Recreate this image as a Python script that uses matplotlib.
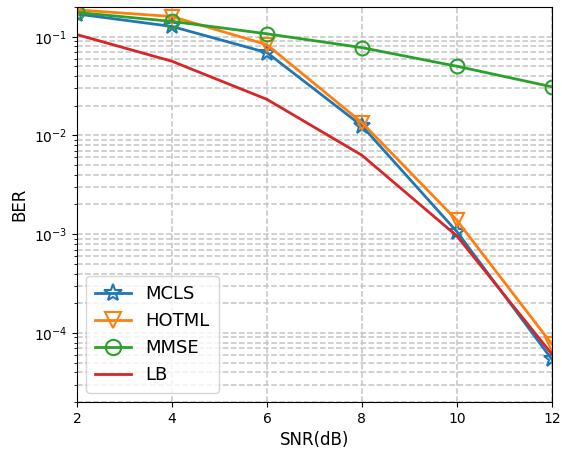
import matplotlib
matplotlib.use("Agg")
import matplotlib.pyplot as plt

snr = [2, 4, 6, 8, 10, 12]
mcls = [0.17, 0.127, 0.069, 0.0125, 0.00106, 5.4e-5]
hotml = [0.187, 0.16, 0.083, 0.0135, 0.00138, 7.7e-5]
mmse = [0.176, 0.143, 0.107, 0.0775, 0.0502, 0.0311]
lb = [0.105, 0.0564, 0.0232, 0.0063, 0.00096, 6.1e-5]

fig = plt.figure(figsize=(5.62, 4.53), dpi=100)
ax = fig.add_axes([0.137, 0.1126, 0.845, 0.872])

ax.semilogy(snr, mcls, color="#1f77b4", marker="*", markersize=12, markerfacecolor="none",
            markeredgewidth=1.5, linewidth=2, label="MCLS")
ax.semilogy(snr, hotml, color="#ff7f0e", marker="v", markersize=10, markerfacecolor="none",
            markeredgewidth=1.5, linewidth=2, label="HOTML")
ax.semilogy(snr, mmse, color="#2ca02c", marker="o", markersize=10, markerfacecolor="none",
            markeredgewidth=1.5, linewidth=2, label="MMSE")
ax.semilogy(snr, lb, color="#d62728", linewidth=2, label="LB")

ax.set_xlim(2, 12)
ax.set_ylim(2e-5, 0.2)
ax.set_xticks([2, 4, 6, 8, 10, 12])
ax.grid(True, which="both", linestyle="--", color="#c4c4c4", linewidth=1.1)
ax.set_xlabel("SNR(dB)", fontsize=12)
ax.set_ylabel("BER", fontsize=12)
ax.tick_params(labelsize=10)
ax.legend(loc="lower left", fontsize=13, handlelength=2, borderpad=0.5, labelspacing=0.5,
          markerscale=1.1)

fig.savefig("out.png", dpi=100)
